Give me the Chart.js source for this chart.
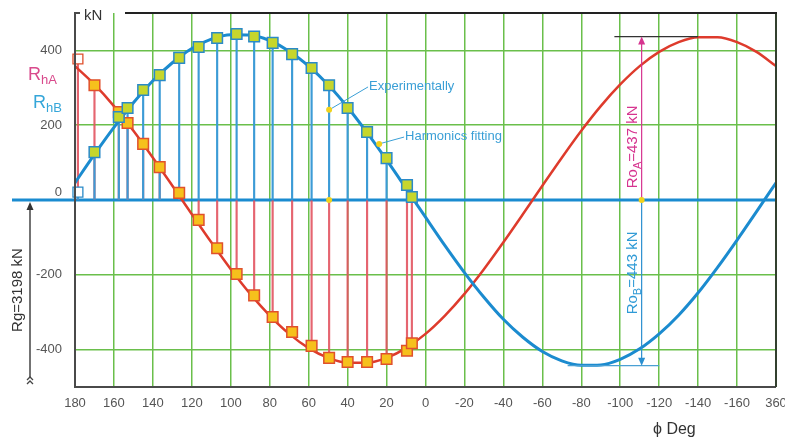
<!DOCTYPE html>
<html>
<head>
<meta charset="utf-8">
<script src="https://cdn.jsdelivr.net/npm/chart.js@4.4.1/dist/chart.umd.min.js"></script>
<style>
html, body { margin: 0; padding: 0; background: #fff; }
canvas { display: block; }
</style>
</head>
<body>
<canvas id="chartRh" width="785" height="439"></canvas>
<script>
var rh_chart = "chartRh";
var FONT = "'Liberation Sans Narrow', 'Liberation Sans', Arial, sans-serif";

// angle axis runs 180 .. -180 (the last tick is written 360)
var xTicks = [180, 160, 140, 120, 100, 80, 60, 40, 20, 0, -20, -40, -60, -80, -100, -120, -140, -160, -180];
var yTicks = [400, 200, 0, -200, -400];

var fitAngles = [180, 170, 160, 150, 140, 130, 120, 110, 100, 90, 80, 70, 60, 50, 40, 30, 20, 10, 0,
	-10, -20, -30, -40, -50, -60, -70, -80, -90, -100, -110, -120, -130, -140, -150, -160, -170, -180];
var fitA = [358, 309, 251, 185, 113, 38, -38, -113, -185, -251, -309, -358, -396, -422, -435, -435, -422, -396, -358,
	-309, -251, -185, -113, -38, 38, 113, 185, 251, 309, 358, 396, 422, 435, 435, 422, 396, 358];
var fitB = [46, 122, 194, 260, 319, 367, 405, 430, 442, 441, 426, 398, 358, 308, 248, 180, 107, 31, -46,
	-122, -194, -260, -319, -367, -405, -430, -442, -441, -426, -398, -358, -308, -248, -180, -107, -31, 46];

// experimental points
var expAngles = [170, 157.5, 153, 145, 136.5, 126.5, 116.5, 107, 97, 88, 78.5, 68.5, 58.5, 49.5, 40, 30, 20, 9.5, 7];
var expA = [307, 235, 206, 150, 88, 19, -53, -129, -198, -255, -313, -353, -390, -422, -433, -433, -425, -403, -383];
var expB = [128, 222, 246, 294, 334, 380, 409, 433, 444, 437, 420, 390, 353, 307, 246, 182, 112, 40, 8];

// open markers at the start
var openAngles = [178.5];
var openA = [377];
var openB = [21];

// amplitudes
var roAngle = -111;
var roA = 437;
var roB = -443;
var roALine = [-97, -140];
var roBLine = [-73, -120];
var roAText = 142;
var roBText = -195;

// notes
var noteText = ["Experimentally", "Harmonics fitting"];
var noteAt = [[29.5, 305], [11, 171]];
var noteTo = [[49.5, 241], [23.8, 150]];
var dotsAt = [[49.5, 241], [23.8, 150], [49.5, 0], [-111, 0]];

function pts(xs, ys) {
	return xs.map(function(x, i) { return { x: x, y: ys[i] }; });
}

function line(c, x1, y1, x2, y2) {
	c.beginPath(); c.moveTo(x1, y1); c.lineTo(x2, y2); c.stroke();
}

function tri(c, x, tip, dir) {
	c.beginPath();
	c.moveTo(x, tip);
	c.lineTo(x - 3.5, tip + dir * 8);
	c.lineTo(x + 3.5, tip + dir * 8);
	c.closePath(); c.fill();
}

function drawRich(c, x, y, parts, align) {
	var w = 0;
	parts.forEach(function(p) { c.font = p.f; p.w = c.measureText(p.t).width; w += p.w; });
	var cx = align === "center" ? x - w / 2 : x;
	c.textAlign = "left"; c.textBaseline = "alphabetic";
	parts.forEach(function(p) { c.font = p.f; c.fillText(p.t, cx, y + (p.dy || 0)); cx += p.w; });
}

var decor = {
	id: "decor",
	beforeDatasetsDraw: function(chart) {
		var c = chart.ctx, a = chart.chartArea;
		var y0 = chart.scales.y.getPixelForValue(0);
		c.save();
		c.strokeStyle = "#1a8bd0"; c.lineWidth = 3;
		line(c, 12, y0, a.right, y0);
		c.restore();
	},
	afterDraw: function(chart) {
		var c = chart.ctx, a = chart.chartArea;
		var xs = chart.scales.x, ys = chart.scales.y;
		var y0 = ys.getPixelForValue(0);
		c.save();

		// frame
		c.lineWidth = 2;
		c.strokeStyle = "#4a4a4a";
		line(c, a.left, a.top - 1, a.left, a.bottom + 1);
		line(c, a.left, a.bottom, a.right, a.bottom);
		line(c, a.left - 1, a.top, a.left + 5, a.top);
		c.strokeStyle = "#33402f";
		line(c, a.right, a.top, a.right, a.bottom);
		c.strokeStyle = "#222";
		line(c, a.left + 50, a.top, a.right + 1, a.top);

		c.fillStyle = "#333";
		c.font = "15px " + FONT;
		c.textAlign = "left"; c.textBaseline = "middle";
		c.fillText("kN", a.left + 9, a.top + 3);
		c.font = "16px " + FONT;
		c.fillText("\u03d5 Deg", a.right - 123, 430);

		// RhA / RhB
		c.fillStyle = "#d94a8c";
		drawRich(c, 28, 80, [{ t: "R", f: "18px " + FONT }, { t: "hA", f: "13px " + FONT, dy: 4 }]);
		c.fillStyle = "#35a6d9";
		drawRich(c, 33, 108, [{ t: "R", f: "18px " + FONT }, { t: "hB", f: "13px " + FONT, dy: 4 }]);

		// Rg arrow
		c.strokeStyle = "#444"; c.fillStyle = "#333"; c.lineWidth = 1.5;
		line(c, 30, y0 + 6, 30, a.bottom - 10);
		tri(c, 30, y0 + 2, 1);
		c.lineWidth = 1.3;
		[a.bottom - 10, a.bottom - 6].forEach(function(yy) {
			c.beginPath(); c.moveTo(27, yy + 3); c.lineTo(30, yy); c.lineTo(33, yy + 3); c.stroke();
		});
		c.save();
		c.translate(18, 290); c.rotate(-Math.PI / 2);
		c.font = "15px " + FONT; c.textAlign = "center"; c.textBaseline = "middle";
		c.fillText("Rg=3198 kN", 0, 0);
		c.restore();

		// amplitude arrows
		var ax = xs.getPixelForValue(roAngle);
		var yA = ys.getPixelForValue(roA), yB = ys.getPixelForValue(roB);
		c.lineWidth = 1.2;
		c.strokeStyle = "#333";
		line(c, xs.getPixelForValue(roALine[0]), yA, xs.getPixelForValue(roALine[1]), yA);
		c.strokeStyle = "#d6338f"; c.fillStyle = "#d6338f";
		line(c, ax, y0, ax, yA + 6);
		tri(c, ax, yA, 1);
		c.strokeStyle = "#4aa0d4";
		line(c, xs.getPixelForValue(roBLine[0]), yB, xs.getPixelForValue(roBLine[1]), yB);
		c.strokeStyle = "#2a8fd0"; c.fillStyle = "#2a8fd0";
		line(c, ax, y0, ax, yB - 6);
		tri(c, ax, yB, -1);

		c.save();
		c.translate(ax - 10, ys.getPixelForValue(roAText)); c.rotate(-Math.PI / 2);
		c.fillStyle = "#d6338f";
		drawRich(c, 0, 5, [{ t: "Ro", f: "15px " + FONT }, { t: "A", f: "11px " + FONT, dy: 4 }, { t: "=437 kN", f: "15px " + FONT }], "center");
		c.restore();
		c.save();
		c.translate(ax - 10, ys.getPixelForValue(roBText)); c.rotate(-Math.PI / 2);
		c.fillStyle = "#2f9ad6";
		drawRich(c, 0, 5, [{ t: "Ro", f: "15px " + FONT }, { t: "B", f: "11px " + FONT, dy: 4 }, { t: "=443 kN", f: "15px " + FONT }], "center");
		c.restore();

		// notes
		c.strokeStyle = "#3a9fd6"; c.fillStyle = "#3a9fd6"; c.lineWidth = 1;
		c.font = "13px " + FONT; c.textAlign = "left"; c.textBaseline = "middle";
		noteText.forEach(function(t, i) {
			var tx = xs.getPixelForValue(noteAt[i][0]), ty = ys.getPixelForValue(noteAt[i][1]);
			line(c, tx, ty + 1, xs.getPixelForValue(noteTo[i][0]), ys.getPixelForValue(noteTo[i][1]));
			c.fillText(t, tx + 1, ty);
		});
		c.fillStyle = "#f0d21c";
		dotsAt.forEach(function(d) {
			c.beginPath();
			c.arc(xs.getPixelForValue(d[0]), ys.getPixelForValue(d[1]), 3, 0, Math.PI * 2);
			c.fill();
		});
		c.restore();
	}
};

function Init() {
	var stemAngles = openAngles.concat(expAngles);
	new Chart(document.getElementById(rh_chart), {
		type: "line",
		data: {
			datasets: [
				{ type: "bar", data: pts(stemAngles, openA.concat(expA)), backgroundColor: "rgba(226,84,96,0.9)",
					barThickness: 1.5, maxBarThickness: 1.5, grouped: false, order: 5 },
				{ type: "bar", data: pts(stemAngles, openB.concat(expB)), backgroundColor: "#3c9bd6",
					barThickness: 1.5, maxBarThickness: 1.5, grouped: false, order: 4 },
				{ data: pts(fitAngles, fitA), borderColor: "#de3b2c", borderWidth: 2.5, pointRadius: 0,
					cubicInterpolationMode: "monotone", fill: false, order: 3 },
				{ data: pts(fitAngles, fitB), borderColor: "#1b8bcf", borderWidth: 3, pointRadius: 0,
					cubicInterpolationMode: "monotone", fill: false, order: 2 },
				{ data: pts(expAngles, expA), showLine: false, pointStyle: "rect", pointRadius: 7.5,
					pointBackgroundColor: "#f6c01c", pointBorderColor: "#e0502c", pointBorderWidth: 1.5, clip: false, order: 1 },
				{ data: pts(expAngles, expB), showLine: false, pointStyle: "rect", pointRadius: 7.5,
					pointBackgroundColor: "#c6d62c", pointBorderColor: "#2a8ac8", pointBorderWidth: 1.5, clip: false, order: 0 },
				{ data: pts(openAngles, openA), showLine: false, pointStyle: "rect", pointRadius: 7,
					pointBackgroundColor: "#fff", pointBorderColor: "#e0502c", pointBorderWidth: 1.3, clip: false, order: 0 },
				{ data: pts(openAngles, openB), showLine: false, pointStyle: "rect", pointRadius: 7,
					pointBackgroundColor: "#fff", pointBorderColor: "#2a8ac8", pointBorderWidth: 1.3, clip: false, order: 0 }
			]
		},
		options: {
			responsive: false,
			animation: false,
			events: [],
			layout: { padding: { left: 0, right: 7, top: 13, bottom: 0 } },
			plugins: { legend: { display: false }, tooltip: { enabled: false } },
			scales: {
				x: {
					type: "linear", min: -180, max: 180, reverse: true, offset: false,
					afterBuildTicks: function(s) { s.ticks = xTicks.map(function(v) { return { value: v }; }); },
					afterFit: function(s) { s.height = 52; s.paddingLeft = 0; s.paddingRight = 0; },
					ticks: {
						autoSkip: false, maxRotation: 0, padding: 9, color: "#555",
						font: { family: FONT, size: 13 },
						callback: function(v) { return v === -180 ? "360" : String(v); }
					},
					grid: {
						offset: false, drawTicks: false, lineWidth: 1.5,
						color: function(ctx) {
							var v = ctx.tick ? ctx.tick.value : null;
							return (v === 180 || v === -180) ? "rgba(0,0,0,0)" : "#6abf4b";
						}
					},
					border: { display: false }
				},
				y: {
					min: -500, max: 500,
					afterBuildTicks: function(s) { s.ticks = yTicks.map(function(v) { return { value: v }; }); },
					afterFit: function(s) { s.width = 75; s.paddingTop = 0; s.paddingBottom = 0; },
					ticks: {
						padding: 13, color: "#555",
						font: { family: FONT, size: 13 },
						callback: function(v) { return v === 0 ? ["0", ""] : String(v); }
					},
					grid: {
						drawTicks: false, lineWidth: 1.5,
						color: function(ctx) {
							return (ctx.tick && ctx.tick.value === 0) ? "rgba(0,0,0,0)" : "#6abf4b";
						}
					},
					border: { display: false }
				}
			}
		},
		plugins: [decor]
	});
}

Init();
</script>
</body>
</html>
